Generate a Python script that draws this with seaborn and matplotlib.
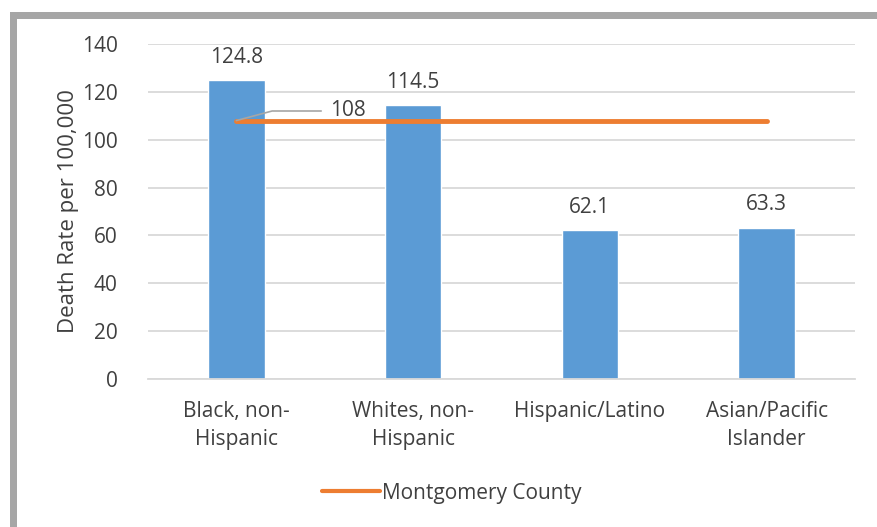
import matplotlib
matplotlib.use("Agg")
import matplotlib.pyplot as plt
import seaborn as sns
import pandas as pd
from matplotlib.patches import Rectangle
from matplotlib.lines import Line2D

categories = ["Black, non-\nHispanic", "Whites, non-\nHispanic", "Hispanic/Latino", "Asian/Pacific\nIslander"]
rates = [124.8, 114.5, 62.1, 63.3]
county_rate = [108, 108, 108, 108]
yticks = [0, 20, 40, 60, 80, 100, 120, 140]

sns.set_theme(style="white")
plt.rcParams['font.family'] = ['Open Sans', 'DejaVu Sans']

df = pd.DataFrame({"cat": categories, "rate": rates, "county": county_rate})

W, H = 877, 527
fig = plt.figure(figsize=(W/100, H/100), dpi=100)
ax = fig.add_axes([148/W, 1-379/H, (855-148)/W, (379-44)/H])

sns.barplot(data=df, x="cat", y="rate", color="#5B9BD5", width=0.32, ax=ax, saturation=1)
ax.plot(range(len(categories)), df["county"], color="#ED7D31", lw=3.5, solid_capstyle="round", zorder=4)

ax.set_xlim(-0.5, 3.5)
ax.set_ylim(0, 140)
ax.set_yticks(yticks)
ax.yaxis.grid(True, color="#D9D9D9", lw=1.3)
ax.set_axisbelow(True)
for s in ["top", "right", "left"]:
    ax.spines[s].set_visible(False)
ax.spines["bottom"].set_color("#D9D9D9")
ax.spines["bottom"].set_linewidth(1.3)
ax.tick_params(axis="y", labelsize=15, colors="#404040", length=0, pad=22)
ax.tick_params(axis="x", labelsize=15, colors="#404040", length=0, pad=16)
for lbl in ax.get_xticklabels():
    lbl.set_linespacing(1.45)
ax.set_xlabel("")
ax.set_ylabel("Death Rate per 100,000", fontsize=16, color="#404040", labelpad=2)

for i, v in enumerate(rates):
    ax.annotate(f"{v}", (i, v), xytext=(0, 9), textcoords="offset points",
                ha="center", va="bottom", fontsize=15, color="#404040")

ax.annotate(f"{county_rate[0]}", xy=(0, county_rate[0]), xytext=(0.53, 112),
            textcoords="data", ha="left", va="center", fontsize=15, color="#404040",
            arrowprops=dict(arrowstyle="-", color="#A6A6A6", lw=1.2,
                            connectionstyle="angle,angleA=0,angleB=15,rad=0",
                            shrinkA=4, shrinkB=0), zorder=5)

# legend
leg_handle = Line2D([], [], color="#ED7D31", lw=3)
fig.legend([leg_handle], ["Montgomery County"], loc="center", bbox_to_anchor=(452/W, 1-493/H),
           frameon=False, fontsize=15, handlelength=2.8, handletextpad=0.1,
           labelcolor="#404040")

# outer frame (top and left visible)
fig.patches.append(Rectangle((10/W, -0.1), 7/W, 1.1 - 12/H, transform=fig.transFigure,
                             color="#A6A6A6", lw=0))
fig.patches.append(Rectangle((10/W, 1-19/H), 1.0, 7/H, transform=fig.transFigure,
                             color="#A6A6A6", lw=0))

fig.savefig("out.png", dpi=100, facecolor="white")
